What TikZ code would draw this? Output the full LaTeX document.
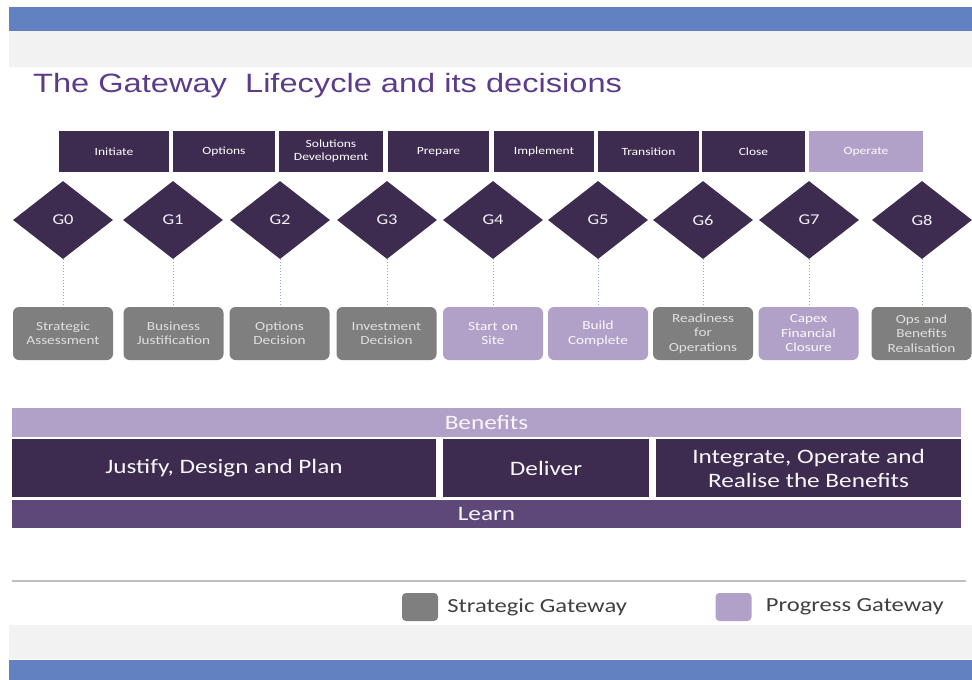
\documentclass[tikz,border=0pt]{standalone}
\usepackage{fontspec}
\setmainfont{Carlito}[FakeStretch=1.23]
\newfontfamily\titlefont{Liberation Sans}[FakeStretch=1.23]
\usetikzlibrary{shapes.geometric,positioning}

\definecolor{gwblue}{RGB}{98,129,192}
\definecolor{gwpale}{RGB}{242,242,242}
\definecolor{gwdark}{RGB}{62,44,80}
\definecolor{gwlilac}{RGB}{177,160,199}
\definecolor{gwlearn}{RGB}{94,72,121}
\definecolor{gwgrey}{RGB}{127,127,127}
\definecolor{gwtitle}{RGB}{92,60,138}
\definecolor{gwdots}{RGB}{142,169,219}
\definecolor{gwrule}{RGB}{191,191,191}
\definecolor{gwtext}{RGB}{64,64,64}

\tikzset{
 phasebox/.style={fill=gwdark, text=white, minimum height=41pt, inner sep=0pt,
  align=center, font=\fontsize{11}{13}\selectfont},
 gatediamond/.style={diamond, fill=gwdark, text=white!85!gwlilac, minimum width=100pt,
  minimum height=78pt, inner sep=0pt, font=\fontsize{15}{15}\selectfont},
 gatebox/.style={rounded corners=6pt, minimum width=100pt, minimum height=53pt,
  inner sep=0pt, text width=96pt, align=center, font=\fontsize{12.4}{14.5}\selectfont},
 strategic/.style={gatebox, fill=gwgrey, text=white!88!black},
 progress/.style={gatebox, fill=gwlilac, text=white!95!gwlilac},
 band/.style={inner sep=0pt, align=center, text=white!92!gwlilac,
  font=\fontsize{20.5}{24}\selectfont},
 gatelink/.style={gwdots, dotted, line width=1pt},
 keybox/.style={rounded corners=4pt, minimum width=36pt, minimum height=28pt, inner sep=0pt},
 keytext/.style={inner sep=0pt, text=gwtext, font=\fontsize{20}{24}\selectfont},
}

\begin{document}
\begin{tikzpicture}[x=1pt,y=-1pt]
\useasboundingbox (0,0) rectangle (972,680);
\fill[gwblue] (9,7) rectangle (972,31);
\fill[gwpale] (9,31) rectangle (972,67);
\fill[gwpale] (9,625) rectangle (972,659);
\fill[gwblue] (9,660) rectangle (972,680);

\node[anchor=base west, inner sep=0pt, text=gwtitle, font=\titlefont\fontsize{26.5}{30}\selectfont]
 (title) at (33,92) {The Gateway\ \ Lifecycle and its decisions};

% stages along the top
\node[phasebox, minimum width=110pt] (initiate) at (114,151.5) {Initiate};
\node[phasebox, minimum width=102pt] (options) at (224,151.5) {Options};
\node[phasebox, minimum width=104pt] (solutions) at (331,151.5) {Solutions\\Development};
\node[phasebox, minimum width=101pt] (prepare) at (438.5,151.5) {Prepare};
\node[phasebox, minimum width=100pt] (implement) at (544,151.5) {Implement};
\node[phasebox, minimum width=101pt] (transition) at (648.5,151.5) {Transition};
\node[phasebox, minimum width=103pt] (close) at (753.5,151.5) {Close};
\node[phasebox, minimum width=114pt, fill=gwlilac] (operate) at (866,151.5) {Operate};

% gateways
\foreach \x/\n in {63/0,173/1,280/2,387/3,493/4,598/5,703/6,809/7,922/8}
 \node[gatediamond] (g\n) at (\x,220) {G\n};

\node[strategic] (d0) at (63,333.5) {Strategic\\Assessment};
\node[strategic] (d1) at (173.5,333.5) {Business\\Justification};
\node[strategic] (d2) at (279.5,333.5) {Options\\Decision};
\node[strategic] (d3) at (386.5,333.5) {Investment\\Decision};
\node[progress] (d4) at (493,333.5) {Start on\\Site};
\node[progress] (d5) at (598,333.5) {Build\\Complete};
\node[strategic] (d6) at (703,333.5) {Readiness\\for\\Operations};
\node[progress] (d7) at (808.5,333.5) {Capex\\Financial\\Closure};
\node[strategic] (d8) at (921.5,333.5) {Ops and\\Benefits\\Realisation};

\foreach \n in {0,...,8}
 \draw[gatelink] (g\n.south) -- (g\n.south |- d\n.north);

% phases of the lifecycle
\node[band, fill=gwlilac, minimum width=949pt, minimum height=29pt] (benefits) at (486.5,422.5) {Benefits};
\node[band, fill=gwdark, minimum width=424pt, minimum height=58pt] (justify) at (224,468) {Justify, Design and Plan};
\node[band, fill=gwdark, minimum width=206pt, minimum height=58pt] (deliver) at (546,468) {Deliver};
\node[band, fill=gwdark, minimum width=305pt, minimum height=58pt] (integrate) at (808.5,468)
 {Integrate, Operate and\\Realise the Benefits};
\node[band, fill=gwlearn, minimum width=949pt, minimum height=28pt] (learn) at (486.5,514) {Learn};

\draw[gwrule, line width=2pt] (12,581) -- (966,581);

% key
\node[keybox, fill=gwgrey] (keystrat) at (420,607) {};
\node[keytext, right=9pt of keystrat] (keystrattext) {Strategic Gateway};
\node[keybox, fill=gwlilac] (keyprog) at (733.5,607) {};
\node[keytext, right=14pt of keyprog] (keyprogtext) {Progress Gateway};
\end{tikzpicture}
\end{document}
